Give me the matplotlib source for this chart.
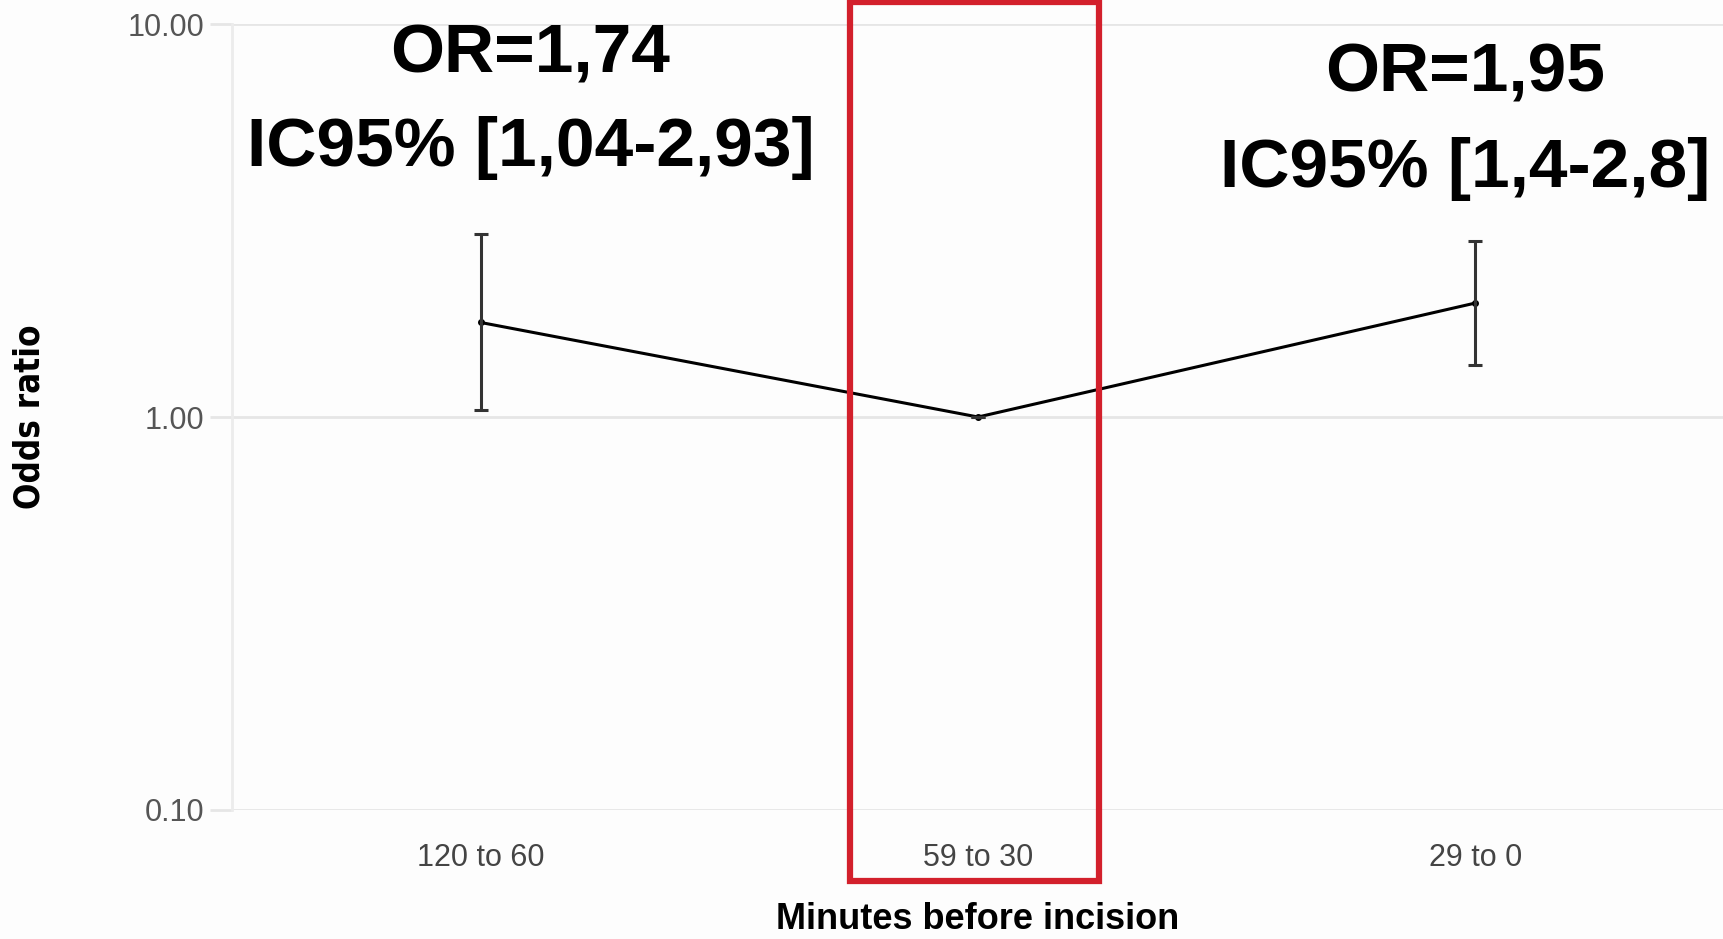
import matplotlib.pyplot as plt
import matplotlib.transforms as mtransforms
from matplotlib.patches import Rectangle
import numpy as np

# odds ratio by time window before incision (reference = 59 to 30)
categories = ['120 to 60', '59 to 30', '29 to 0']
odds_ratio = [1.74, 1.00, 1.95]
ci_low = [1.04, 1.00, 1.36]
ci_high = [2.93, 1.00, 2.80]
or_labels = ['OR=1,74', None, 'OR=1,95']
ci_labels = ['IC95% [1,04-2,93]', None, 'IC95% [1,4-2,8]']
y_ticks = [0.1, 1, 10]
y_ticklabels = ['0.10', '1.00', '10.00']

plt.rcParams['font.family'] = ['Liberation Sans', 'DejaVu Sans']

fig = plt.figure(figsize=(17.24, 9.39), dpi=100, facecolor='#fdfdfd')
ax = fig.add_axes([0.1346, 0.1374, 0.8654, 0.837])
ax.set_facecolor('#fdfdfd')

x = np.arange(len(categories))
or_arr = np.array(odds_ratio)
yerr = np.array([or_arr - np.array(ci_low), np.array(ci_high) - or_arr])

ax.plot(x, or_arr, color='black', lw=2.2, marker='o', ms=4, zorder=3)
ax.errorbar(x, or_arr, yerr=yerr, fmt='none', ecolor='#333333', elinewidth=2.2,
			capsize=5, capthick=2.2, zorder=3)

ax.set_yscale('log')
ax.set_ylim(0.1, 10)
ax.set_xlim(-0.5, len(categories) - 0.5)
ax.set_yticks(y_ticks)
ax.set_yticklabels(y_ticklabels)
ax.minorticks_off()
ax.set_xticks(x)
ax.set_xticklabels(categories)

ax.grid(axis='y', color='#e6e6e6', lw=2)
for side in ['top', 'right', 'bottom']:
	ax.spines[side].set_visible(False)
ax.spines['left'].set_color('#ececec')
ax.spines['left'].set_linewidth(2)
ax.tick_params(axis='y', length=16, width=2, color='#e6e6e6', labelsize=22,
			labelcolor='#555555', pad=4)
ax.tick_params(axis='x', length=0, labelsize=22, labelcolor='#444444', pad=24)

ax.set_ylabel('Odds ratio', fontsize=25, fontweight='bold', labelpad=58,
			family='DejaVu Sans', fontstretch='condensed')
ax.set_xlabel('Minutes before incision', fontsize=26, fontweight='bold', labelpad=21)

# big OR / CI annotations above the two non-reference windows
trans = mtransforms.blended_transform_factory(ax.transData, fig.transFigure)
ann_dx = {0: 0.1, 2: -0.02}
ann_y = {0: (0.942, 0.842), 2: (0.922, 0.82)}
for xi, or_txt, ci_txt in zip(x, or_labels, ci_labels):
	if or_txt is None:
		continue
	for txt, yy in zip([or_txt, ci_txt], ann_y[xi]):
		ax.text(xi + ann_dx[xi], yy, txt, transform=trans, ha='center', va='center',
				fontsize=50, fontweight='bold', zorder=4)

# red highlight box around the reference window
box = Rectangle((x[1] - 0.258, 0.062), 0.502, 0.936, transform=trans, fill=False,
				edgecolor='#d3202c', lw=4.5, clip_on=False, zorder=5)
ax.add_patch(box)

fig.savefig('out.png', dpi=100, facecolor=fig.get_facecolor())
